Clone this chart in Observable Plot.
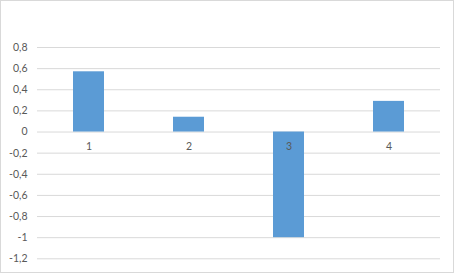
<!DOCTYPE html>
<html>
<head>
<meta charset="utf-8">
<script src="https://cdn.jsdelivr.net/npm/d3@7"></script>
<script src="https://cdn.jsdelivr.net/npm/@observablehq/plot@0.6"></script>
<style>
  html, body { margin: 0; padding: 0; background: #fff; }
  #chart svg { display: block; }
</style>
</head>
<body>
<div id="chart"></div>
<script>
// Category labels and their values
const categories = ["1", "2", "3", "4"];
const values = [0.57, 0.14, -1.0, 0.29];

// Value axis ticks
const yTicks = [-1.2, -1, -0.8, -0.6, -0.4, -0.2, 0, 0.2, 0.4, 0.6, 0.8];

const data = categories.map((c, i) => ({ category: c, value: values[i] }));

// Decimal comma, hyphen minus
const fmt = d => String(Math.round(d * 10) / 10).replace(".", ",");

const font = "Lato, 'Open Sans', sans-serif";
const grey = "#595959";

const chart = Plot.plot({
  width: 454,
  height: 273,
  marginTop: 47,
  marginBottom: 14.7,
  marginLeft: 37,
  marginRight: 14,
  style: { fontFamily: font, fontSize: "10.5px", color: grey, background: "#fff" },
  x: { domain: categories, paddingInner: 0.69, paddingOuter: 0.345, axis: null },
  y: { domain: [-1.2, 0.8], axis: null },
  marks: [
    Plot.ruleY(yTicks, { stroke: "#d9d9d9", strokeWidth: 1 }),
    Plot.barY(data, { x: "category", y: "value", fill: "#5b9bd5" }),
    Plot.axisY(yTicks, {
      tickSize: 0,
      tickPadding: 10,
      tickFormat: fmt,
      label: null,
      fill: grey,
      fontSize: 10.5
    }),
    Plot.text(data, {
      x: "category",
      y: () => 0,
      text: "category",
      dy: 14.5,
      fill: grey,
      fontSize: 10.5
    })
  ]
});

// Chart area border
d3.select(chart).append("rect")
  .attr("x", 0.5).attr("y", 0.5)
  .attr("width", 453).attr("height", 272)
  .attr("fill", "none")
  .attr("stroke", "#d9d9d9");

document.getElementById("chart").appendChild(chart);
</script>
</body>
</html>
